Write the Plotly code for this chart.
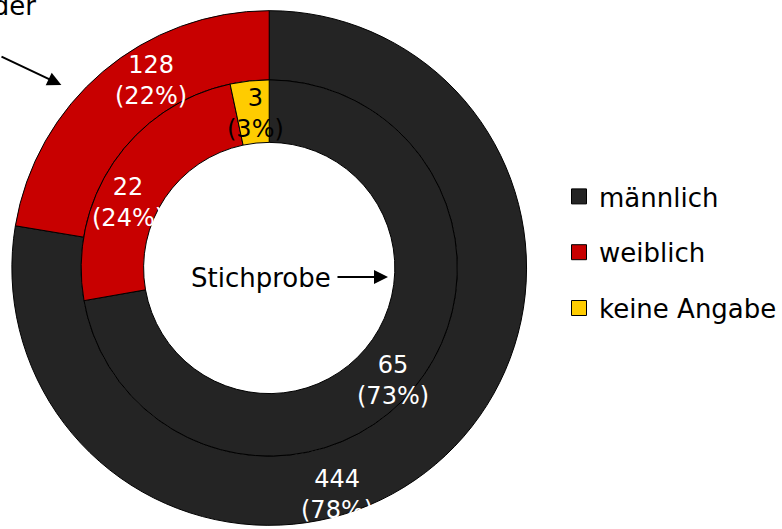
import plotly.graph_objects as go

W, H = 782, 529

labels = ["männlich", "weiblich", "keine Angabe"]
colors = ["#242424", "#c80000", "#ffcc00"]

# outer ring: Grundgesamtheit (Mitglieder)
outer_values = [444, 128]
outer_pct = ["78%", "22%"]

# inner ring: Stichprobe
inner_values = [65, 22, 3]
inner_pct = ["73%", "24%", "3%"]


def px(x, y):
    return x / W, 1 - y / H


fig = go.Figure()

# outer donut
fig.add_trace(go.Pie(
    labels=labels[:2], values=outer_values, sort=False, direction="clockwise",
    hole=0.731, textinfo="none", showlegend=False, hoverinfo="skip",
    marker=dict(colors=colors[:2], line=dict(color="black", width=1)),
    domain=dict(x=[12 / W, 532 / W], y=[1 - 528 / H, 1 - 8 / H]),
))

# inner donut
fig.add_trace(go.Pie(
    labels=labels, values=inner_values, sort=False, direction="clockwise",
    hole=0.668, textinfo="none", showlegend=False, hoverinfo="skip",
    marker=dict(colors=colors, line=dict(color="black", width=1)),
    domain=dict(x=[82 / W, 462 / W], y=[1 - 458 / H, 1 - 78 / H]),
))

# legend entries
for lab, col in zip(labels, colors):
    fig.add_trace(go.Scatter(
        x=[None], y=[None], mode="markers", name=lab, legendgroup=lab,
        marker=dict(symbol="square", size=15, color=col, line=dict(color="black", width=1)),
    ))

font = "DejaVu Sans"
annos = []

# value labels
outer_pos = [(340, 494), (153, 80)]
inner_pos = [(397, 380), (129, 202), (258, 113)]
for v, p, (x, y), c in zip(outer_values, outer_pct, outer_pos, ["white", "white"]):
    xx, yy = px(x, y)
    annos.append(dict(x=xx, y=yy, xref="paper", yref="paper", text=f"{v}<br>({p})",
                      xanchor="center", yanchor="middle", showarrow=False,
                      font=dict(family=font, size=24, color=c)))
for v, p, (x, y), c in zip(inner_values, inner_pct, inner_pos, ["white", "white", "black"]):
    xx, yy = px(x, y)
    annos.append(dict(x=xx, y=yy, xref="paper", yref="paper", text=f"{v}<br>({p})",
                      xanchor="center", yanchor="middle", showarrow=False,
                      font=dict(family=font, size=24, color=c)))

# Stichprobe with arrow
xx, yy = px(264, 278)
annos.append(dict(x=xx, y=yy, xref="paper", yref="paper", text="Stichprobe",
                  xanchor="center", yanchor="middle", showarrow=False,
                  font=dict(family=font, size=26, color="black")))
xx, yy = px(392, 277)
annos.append(dict(x=xx, y=yy, xref="paper", yref="paper", text="", showarrow=True,
                  ax=-52, ay=0, arrowhead=2, arrowsize=1.4, arrowwidth=2, arrowcolor="black"))

# cut-off label top left with arrow
xx, yy = px(38, 23)
annos.append(dict(x=xx, y=yy, xref="paper", yref="paper", text="Mitglieder",
                  xanchor="right", yanchor="bottom", showarrow=False,
                  font=dict(family=font, size=26, color="black")))
xx, yy = px(62, 85)
annos.append(dict(x=xx, y=yy, xref="paper", yref="paper", text="", showarrow=True,
                  ax=-64, ay=-29, arrowhead=2, arrowsize=1.4, arrowwidth=2, arrowcolor="black"))

fig.update_layout(
    width=W, height=H,
    margin=dict(l=0, r=0, t=0, b=0),
    paper_bgcolor="white", plot_bgcolor="white",
    xaxis=dict(visible=False), yaxis=dict(visible=False),
    annotations=annos,
    legend=dict(x=565 / W, xanchor="left", y=1 - 252.5 / H, yanchor="middle",
                font=dict(family=font, size=26, color="black"),
                tracegroupgap=19, bgcolor="rgba(0,0,0,0)"),
)

fig.write_html("out.html", config={"displayModeBar": False},
               post_script="document.body.style.margin='0px';")
